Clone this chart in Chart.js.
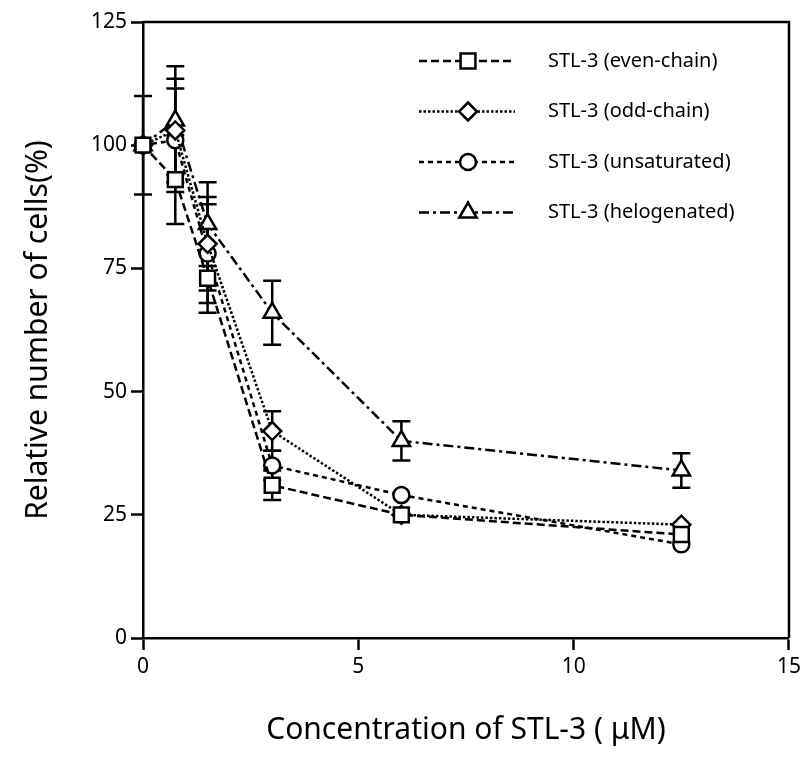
<!DOCTYPE html>
<html>
<head>
<meta charset="utf-8">
<script src="https://cdn.jsdelivr.net/npm/chart.js@4"></script>
<style>
  html, body { margin: 0; padding: 0; background: #fff; }
  #wrap { width: 805px; height: 767px; }
</style>
</head>
<body>
<div id="wrap"><canvas id="myChart"></canvas></div>
<script>
// concentrations (uM)
const conc = [0, 0.75, 1.5, 3, 6, 12.5];

// relative number of cells (%) and error bars
const evenChain = [100, 93, 73, 31, 25, 21];
const evenErr   = [10, 9, 7, 3, 0, 0];
const oddChain  = [100, 103, 80, 42, 25, 23];
const oddErr    = [0, 10.5, 9.5, 4, 0, 0];
const unsat     = [100, 101, 78, 35, 29, 19];
const unsatErr  = [0, 10.5, 10, 3, 0, 0];
const halo      = [100, 105, 84, 66, 40, 34];
const haloErr   = [0, 11, 8.5, 6.5, 4, 3.5];

const seriesNames = ['STL-3 (even-chain)', 'STL-3 (odd-chain)', 'STL-3 (unsaturated)', 'STL-3 (helogenated)'];
const xTicks = [0, 5, 10, 15];
const yTicks = [0, 25, 50, 75, 100, 125];

const FONT = '"Noto Sans", "Noto Sans CJK JP", sans-serif';

function pts(ys) {
  return conc.map((x, i) => ({ x: x, y: ys[i] }));
}

function mkSet(label, ys, errs, style, radius, dash) {
  return {
    label: label,
    data: pts(ys),
    errs: errs,
    showLine: true,
    borderColor: '#000',
    borderWidth: 2.5,
    borderDash: dash,
    pointStyle: style,
    pointRadius: radius,
    pointBackgroundColor: '#fff',
    pointBorderColor: '#000',
    pointBorderWidth: 2.5,
    clip: false
  };
}

// error bars under the markers
const errorBars = {
  id: 'errorBars',
  beforeDatasetsDraw(chart) {
    const ctx = chart.ctx;
    const xs = chart.scales.x, ys = chart.scales.y;
    ctx.save();
    ctx.strokeStyle = '#000';
    ctx.lineWidth = 2.5;
    ctx.setLineDash([]);
    chart.data.datasets.forEach(ds => {
      ds.data.forEach((p, i) => {
        const e = ds.errs[i];
        if (!e) return;
        const px = xs.getPixelForValue(p.x);
        const top = ys.getPixelForValue(p.y + e);
        const bot = ys.getPixelForValue(p.y - e);
        ctx.beginPath();
        ctx.moveTo(px, top); ctx.lineTo(px, bot);
        ctx.moveTo(px - 9, top); ctx.lineTo(px + 9, top);
        ctx.moveTo(px - 9, bot); ctx.lineTo(px + 9, bot);
        ctx.stroke();
      });
    });
    ctx.restore();
  }
};

function marker(ctx, style, r, x, y) {
  ctx.beginPath();
  if (style === 'rect') {
    const s = r * Math.SQRT1_2;
    ctx.rect(x - s, y - s, 2 * s, 2 * s);
  } else if (style === 'rectRot') {
    ctx.moveTo(x, y - r); ctx.lineTo(x + r, y); ctx.lineTo(x, y + r); ctx.lineTo(x - r, y); ctx.closePath();
  } else if (style === 'triangle') {
    for (let k = 0; k < 3; k++) {
      const a = k * 2 * Math.PI / 3;
      const fx = x + Math.sin(a) * r, fy = y - Math.cos(a) * r;
      if (k === 0) ctx.moveTo(fx, fy); else ctx.lineTo(fx, fy);
    }
    ctx.closePath();
  } else {
    ctx.arc(x, y, r, 0, Math.PI * 2);
  }
  ctx.fill();
  ctx.stroke();
}

// frame + hand-made legend
const frameLegend = {
  id: 'frameLegend',
  afterDraw(chart) {
    const ctx = chart.ctx;
    const a = chart.chartArea;
    ctx.save();
    ctx.strokeStyle = '#000';
    ctx.lineWidth = 2.5;
    ctx.beginPath();
    ctx.moveTo(a.left, a.top); ctx.lineTo(a.right, a.top); ctx.lineTo(a.right, a.bottom);
    ctx.stroke();

    chart.data.datasets.forEach((ds, i) => {
      const y = a.top + 39 + i * 50.5;
      ctx.setLineDash(ds.borderDash);
      ctx.lineWidth = 2.5;
      ctx.beginPath();
      ctx.moveTo(419, y); ctx.lineTo(515, y);
      ctx.stroke();
      ctx.setLineDash([]);
      ctx.fillStyle = '#fff';
      marker(ctx, ds.pointStyle, ds.pointRadius, 468, y);
      ctx.fillStyle = '#000';
      ctx.font = '20px ' + FONT;
      ctx.textAlign = 'left';
      ctx.textBaseline = 'middle';
      ctx.fillText(ds.label, 548, y);
    });
    ctx.restore();
  }
};

const ctx = document.getElementById('myChart');
new Chart(ctx, {
  type: 'scatter',
  data: {
    datasets: [
      mkSet(seriesNames[0], evenChain, evenErr, 'rect', 10.5, [8, 4]),
      mkSet(seriesNames[1], oddChain, oddErr, 'rectRot', 9, [2.5, 2]),
      mkSet(seriesNames[2], unsat, unsatErr, 'circle', 8, [5, 4]),
      mkSet(seriesNames[3], halo, haloErr, 'triangle', 10, [10, 4, 3, 4])
    ]
  },
  options: {
    responsive: true,
    maintainAspectRatio: false,
    animation: false,
    layout: { padding: { top: 22, right: 12, left: 0, bottom: 0 } },
    plugins: {
      legend: { display: false },
      tooltip: { enabled: false }
    },
    scales: {
      x: {
        type: 'linear',
        min: 0, max: 15,
        afterBuildTicks: s => { s.ticks = xTicks.map(v => ({ value: v })); },
        afterFit: s => { s.height = 129; },
        border: { display: true, color: '#000', width: 2.5 },
        grid: { drawOnChartArea: false, drawTicks: true, tickLength: 12, tickWidth: 2.5, tickColor: '#000' },
        ticks: { color: '#000', padding: 4, font: { family: FONT, size: 21 } },
        title: {
          display: true,
          text: 'Concentration of STL-3 ( μM)',
          color: '#000',
          font: { family: FONT, size: 30 },
          padding: { top: 0, bottom: 19 }
        }
      },
      y: {
        type: 'linear',
        min: 0, max: 125,
        afterBuildTicks: s => { s.ticks = yTicks.map(v => ({ value: v })); },
        afterFit: s => { s.width = 143; },
        border: { display: true, color: '#000', width: 2.5 },
        grid: { drawOnChartArea: false, drawTicks: true, tickLength: 12, tickWidth: 2.5, tickColor: '#000' },
        ticks: { color: '#000', padding: 4, font: { family: FONT, size: 21 } },
        title: {
          display: true,
          text: 'Relative number of cells(%)',
          color: '#000',
          font: { family: FONT, size: 30 },
          padding: { top: 20, bottom: 0 }
        }
      }
    }
  },
  plugins: [errorBars, frameLegend]
});
</script>
</body>
</html>
